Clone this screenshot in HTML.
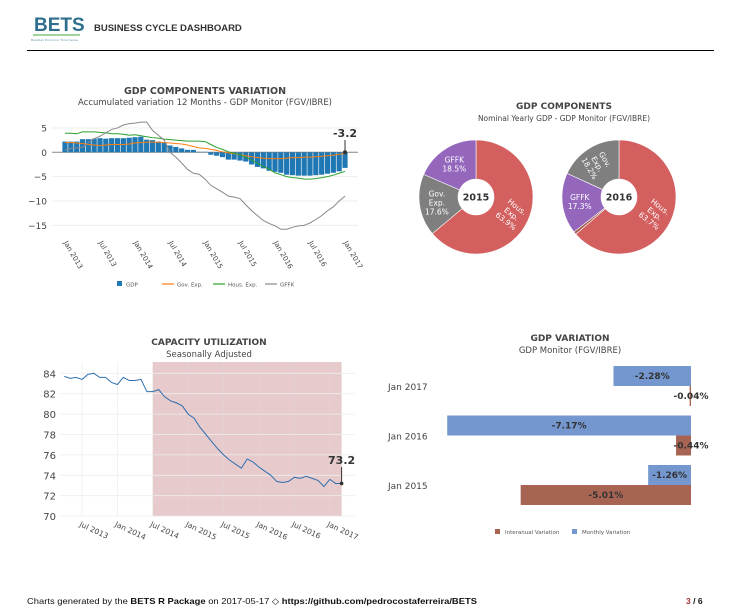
<!DOCTYPE html>
<html><head><meta charset="utf-8"><style>
body{margin:0;background:#fff;}
svg{display:block;font-family:"DejaVu Sans","Liberation Sans",sans-serif;}
</style></head><body>
<svg id="s" width="736" height="613" viewBox="0 0 736 613" xmlns="http://www.w3.org/2000/svg">
<g>
<text x="34" y="31" font-size="19" font-weight="bold" fill="#2e6f8e" font-family="Liberation Sans,sans-serif">BETS</text>
<rect x="33" y="34" width="47" height="2" fill="#9fd59a"/>
<text x="31" y="41" font-size="3" fill="#6a8ea0">Brazilian Economic Time Series</text>
<text x="94" y="31" font-size="9.5" font-weight="bold" fill="#333" font-family="Liberation Sans,sans-serif">BUSINESS CYCLE DASHBOARD</text>
<line x1="27" y1="50.5" x2="714" y2="50.5" stroke="#000" stroke-width="1"/>
</g>
<g id="c1">
<text x="205" y="94" text-anchor="middle" font-size="9.5" font-weight="bold" fill="#444">GDP COMPONENTS VARIATION</text>
<text x="205" y="105" text-anchor="middle" font-size="8.5" fill="#444">Accumulated variation 12 Months - GDP Monitor (FGV/IBRE)</text>
</g>
<g id="c2">
<text x="564" y="109" text-anchor="middle" font-size="9" font-weight="bold" fill="#444">GDP COMPONENTS</text>
<text x="564" y="121" text-anchor="middle" font-size="7.5" fill="#444">Nominal Yearly GDP - GDP Monitor (FGV/IBRE)</text>
</g>
<g id="c3">
<text x="209" y="345" text-anchor="middle" font-size="9" font-weight="bold" fill="#444">CAPACITY UTILIZATION</text>
<text x="209" y="357" text-anchor="middle" font-size="8.5" fill="#444">Seasonally Adjusted</text>
</g>
<g id="c4">
<text x="570" y="341" text-anchor="middle" font-size="9" font-weight="bold" fill="#444">GDP VARIATION</text>
<text x="570" y="353" text-anchor="middle" font-size="8.5" fill="#444">GDP Monitor (FGV/IBRE)</text>
</g>
<g font-family="Liberation Sans,sans-serif" font-size="8.5" fill="#111">
<text x="27" y="604" textLength="450" lengthAdjust="spacingAndGlyphs">Charts generated by the <tspan font-weight="bold">BETS R Package</tspan> on 2017-05-17 ◇ <tspan font-weight="bold">https://github.com/pedrocostaferreira/BETS</tspan></text>
<text x="686" y="604" font-weight="bold"><tspan fill="#a33">3</tspan> / 6</text>
</g>
</svg>
<script>
const NS='http://www.w3.org/2000/svg';
function mk(p,t,a,txt){const e=document.createElementNS(NS,t);for(const k in a)e.setAttribute(k,a[k]);if(txt!==undefined)e.textContent=txt;p.appendChild(e);return e;}

// ---- Chart 1 data ----
const c1Months=49; // Jan 2013 .. Jan 2017
const c1Ticks=['Jan 2013','Jul 2013','Jan 2014','Jul 2014','Jan 2015','Jul 2015','Jan 2016','Jul 2016','Jan 2017'];
const c1YTicks=[5,0,-5,-10,-15];
const gdp=[2.2,2.2,2.2,2.7,2.7,2.8,2.9,2.8,2.9,2.9,2.9,3.0,3.1,3.2,2.6,2.5,2.2,1.9,1.4,1.1,0.8,0.5,0.5,0.1,0.1,-0.5,-0.7,-1.0,-1.5,-1.5,-1.7,-1.9,-2.5,-3.0,-3.3,-3.8,-4.0,-4.2,-4.6,-4.7,-4.8,-4.8,-4.8,-4.7,-4.6,-4.4,-4.2,-3.9,-3.2];
const govExp=[2.0,2.0,1.9,1.8,1.6,1.5,1.4,1.5,1.6,1.6,1.6,1.7,1.9,2.0,2.1,2.1,2.1,2.0,1.9,1.8,1.7,1.5,1.2,0.9,0.8,0.6,0.4,0.1,-0.1,-0.3,-0.5,-0.7,-0.9,-1.1,-1.2,-1.3,-1.3,-1.3,-1.2,-1.1,-1.1,-1.0,-1.0,-0.9,-0.8,-0.7,-0.6,-0.4,-0.3];
const housExp=[3.9,3.9,3.8,4.2,4.2,4.2,4.1,4.0,3.8,3.8,3.7,3.5,3.6,3.4,3.2,3.0,2.9,2.7,2.6,2.5,2.4,2.3,2.3,2.3,2.2,1.6,1.0,0.6,0.1,-0.2,-0.5,-1.0,-1.6,-2.2,-2.9,-3.5,-4.2,-4.6,-5.0,-5.2,-5.3,-5.5,-5.5,-5.4,-5.2,-5.0,-4.7,-4.3,-3.9];
const gffk=[0.5,0.8,0.9,1.0,2.0,2.8,3.3,4.0,4.7,5.0,5.6,5.9,6.0,6.2,6.2,4.5,3.5,2.5,0.0,-1.0,-2.2,-3.5,-4.3,-4.5,-5.5,-6.8,-7.5,-8.2,-9.0,-9.2,-9.5,-10.8,-12.0,-13.0,-14.0,-14.6,-15.1,-15.8,-15.8,-15.4,-15.1,-15.0,-14.5,-13.8,-13.0,-12.0,-11.2,-10.0,-9.0];
// ---- Chart 2 data ----
const pieYears=['2015','2016'];
const pieLabels2015=['Hous. Exp.','Gov. Exp.','GFFK'];
const pieValues2015=[63.9,17.6,18.5];
const pieLabels2016=['Hous. Exp.','Other','GFFK','Gov. Exp.'];
const pieValues2016=[63.7,0.8,17.3,18.2];
// ---- Chart 3 data ---- (Apr 2013 .. Mar 2017)
const capTicks=['Jul 2013','Jan 2014','Jul 2014','Jan 2015','Jul 2015','Jan 2016','Jul 2016','Jan 2017'];
const capYTicks=[84,82,80,78,76,74,72,70];
const capValues=[83.7,83.5,83.6,83.4,83.9,84.0,83.6,83.6,83.1,82.9,83.6,83.3,83.3,83.4,82.2,82.2,82.4,81.7,81.3,81.1,80.8,80.0,79.6,78.7,78.0,77.3,76.6,76.0,75.5,75.1,74.7,75.6,75.3,74.8,74.4,74.0,73.4,73.3,73.4,73.8,73.7,73.9,73.7,73.5,72.9,73.6,73.2,73.2];
const capStartMonth=-3; // months relative to Jul 2013
const recessionStart=12, recessionEnd=44; // months relative to Jul 2013
// ---- Chart 4 data ----
const varCats=['Jan 2017','Jan 2016','Jan 2015'];
const monthlyVar=[-2.28,-7.17,-1.26];
const interanualVar=[-0.04,-0.44,-5.01];

// ===== Chart 1 =====
(function(){
const g=document.getElementById('c1');
const x0=65,x1=345,y0=152.3,ys=4.87;
const X=i=>x0+i*(x1-x0)/(c1Months-1), Y=v=>y0-v*ys;
c1YTicks.forEach(t=>{
 const l=mk(g,'line',{x1:52,x2:358,y1:Y(t),y2:Y(t),stroke:t===0?'#888':'#eee','stroke-width':1});
 
 
 const tx=mk(g,'text',{x:47,y:Y(t)+3.5,'text-anchor':'end','font-size':9,fill:'#444'},t<0?'\u2212'+(-t):String(t));
 
 
});
gdp.forEach((v,i)=>{
 const r=mk(g,'rect',{x:X(i)-2.6,width:5.2,y:Math.min(Y(v),y0),height:Math.abs(v)*ys,fill:'#1f77b4'});
 
 
});
function line(arr,col,name){
 const p=mk(g,'polyline',{points:arr.map((v,i)=>X(i)+','+Y(v)).join(' '),fill:'none',stroke:col,'stroke-width':1});
 
 
}
line(govExp,'#ff7f0e','gov-exp-line');
line(housExp,'#2ca02c','hous-exp-line');
line(gffk,'#888','gffk-line');
c1Ticks.forEach((t,k)=>{
 const x=X(k*6);
 const tx=mk(g,'text',{x:x,y:240,'font-size':7,fill:'#444',transform:`rotate(60 ${x-3} 240)`},t);
 
 
});
const last=gdp[gdp.length-1], lx=X(c1Months-1);
const a=mk(g,'line',{x1:lx,x2:lx,y1:140,y2:Y(0),stroke:'#333','stroke-width':1});


mk(g,'circle',{cx:lx,cy:Y(0),r:2,fill:'#333'});
const al=mk(g,'text',{x:lx,y:137,'text-anchor':'middle','font-size':11,'font-weight':'bold',fill:'#333'},last.toFixed(1));


// legend
const ly=284;
const items=[['GDP','bar','#1f77b4',117],['Gov. Exp.','line','#ff7f0e',162],['Hous. Exp.','line','#2ca02c',213],['GFFK','line','#888',265]];
items.forEach(it=>{
 const e=it[1]==='bar'?mk(g,'rect',{x:it[3],y:ly-3,width:5,height:5,fill:it[2]}):mk(g,'line',{x1:it[3],x2:it[3]+12,y1:ly,y2:ly,stroke:it[2],'stroke-width':1.2});
 
 
 const t=mk(g,'text',{x:it[3]+(it[1]==='bar'?9:15),y:ly+2.5,'font-size':5.5,fill:'#555'},it[0]);
 
 
});
})();

// ===== Chart 2 =====
(function(){
const g=document.getElementById('c2');
const colors={'Hous. Exp.':'#d35f5f','Gov. Exp.':'#7f7f7f','GFFK':'#9467bd','Other':'#a0594a'};
function pie(cx,cy,labels,vals,year){
 const R=57,r=18;let a=0;const tot=vals.reduce((s,v)=>s+v,0);
 vals.forEach((v,i)=>{
  const a0=a,a1=a+v/tot*2*Math.PI;a=a1;
  const p=(ang,rr)=>[cx+rr*Math.sin(ang),cy-rr*Math.cos(ang)];
  const [x0,y0]=p(a0,R),[x1,y1]=p(a1,R),[x2,y2]=p(a1,r),[x3,y3]=p(a0,r);
  const lg=a1-a0>Math.PI?1:0;
  const s=mk(g,'path',{d:`M${x0},${y0}A${R},${R} 0 ${lg} 1 ${x1},${y1}L${x2},${y2}A${r},${r} 0 ${lg} 0 ${x3},${y3}Z`,fill:colors[labels[i]],stroke:'#fff','stroke-width':0.6});
  
  
  if(v>5){
   const m=(a0+a1)/2,[tx,ty]=p(m,(R+r)/2+2);
   const words=labels[i].split(' ').concat([v.toFixed(1)+'%']);
   let rot=0;
   if(labels[i]==='Hous. Exp.')rot=38;
   if(year==='2016'&&labels[i]==='Gov. Exp.')rot=60;
   const t=mk(g,'text',{'font-size':7.5,fill:'#fff','text-anchor':'middle',transform:`rotate(${rot} ${tx} ${ty})`});
   
   
   const lines=(labels[i]==='GFFK')?['GFFK',v.toFixed(1)+'%']:words;
   lines.forEach((w,k)=>{mk(t,'tspan',{x:tx,y:ty+(k-(lines.length-1)/2)*9+3},w);});
  }
 });
 const c=mk(g,'text',{x:cx,y:cy+3.5,'text-anchor':'middle','font-size':9.5,'font-weight':'bold',fill:'#333'},year);
 
 
}
pie(476,197,pieLabels2015,pieValues2015,pieYears[0]);
pie(619,197,pieLabels2016,pieValues2016,pieYears[1]);
})();

// ===== Chart 3 =====
(function(){
const g=document.getElementById('c3');
const xJul13=82,ms=5.9,yTop=373.3,yScale=10.2;
const X=m=>xJul13+m*ms, Y=v=>yTop-(v-84)*yScale;
const band=mk(g,'rect',{x:X(recessionStart),y:362,width:X(recessionEnd)-X(recessionStart),height:Y(70)-362,fill:'#cf9597',opacity:0.5});


capYTicks.forEach(t=>{
 const l=mk(g,'line',{x1:60,x2:355,y1:Y(t),y2:Y(t),stroke:'#eee','stroke-width':0.8});
 
 
 const tx=mk(g,'text',{x:56,y:Y(t)+4,'text-anchor':'end','font-size':10,fill:'#444'},String(t));
 
 
});
capTicks.forEach((t,k)=>{
 const x=X(k*6);
 const l=mk(g,'line',{x1:x,x2:x,y1:362,y2:Y(70),stroke:'#ddd','stroke-width':0.6,opacity:0.6});
 
 
 const tx=mk(g,'text',{x:x-3,y:526,'font-size':7.5,fill:'#444',transform:`rotate(25 ${x-3} 526)`},t);
 
 
});
const pts=capValues.map((v,i)=>X(capStartMonth+i)+','+Y(v));
const p=mk(g,'polyline',{points:pts.join(' '),fill:'none',stroke:'#2f6fb0','stroke-width':1});


const lv=capValues[capValues.length-1],lx=X(capStartMonth+capValues.length-1);
const a=mk(g,'line',{x1:lx,x2:lx,y1:467,y2:Y(lv),stroke:'#333','stroke-width':1});


mk(g,'circle',{cx:lx,cy:Y(lv),r:1.8,fill:'#333'});
const t=mk(g,'text',{x:lx,y:464,'text-anchor':'middle','font-size':11,'font-weight':'bold',fill:'#333'},lv.toFixed(1));


})();

// ===== Chart 4 =====
(function(){
const g=document.getElementById('c4');
const x0=691,sc=34;
const X=v=>x0+v*sc;
varCats.forEach((c,i)=>{
 const top=366+i*49.5;
 const cl=mk(g,'text',{x:388,y:top+24,'font-size':9,fill:'#444'},c);
 
 
 const bm=mk(g,'rect',{x:X(monthlyVar[i]),y:top,width:x0-X(monthlyVar[i]),height:20,fill:'#7497cf'});
 
 
 const bi=mk(g,'rect',{x:X(interanualVar[i]),y:top+20,width:Math.max(1,x0-X(interanualVar[i])),height:20,fill:'#a86452'});
 
 
 const tm=mk(g,'text',{x:(X(monthlyVar[i])+x0)/2,y:top+13,'text-anchor':'middle','font-size':9,'font-weight':'bold',fill:'#333'},monthlyVar[i].toFixed(2)+'%');
 
 
 const w=x0-X(interanualVar[i]);
 const tix=w>40?(X(interanualVar[i])+x0)/2:x0;
 const ti=mk(g,'text',{x:tix,y:top+33,'text-anchor':'middle','font-size':9,'font-weight':'bold',fill:'#333'},interanualVar[i].toFixed(2)+'%');
 
 
});
const items=[['Interanual Variation','#a86452',495],['Monthly Variation','#7497cf',572]];
items.forEach(it=>{
 const s=mk(g,'rect',{x:it[2],y:529,width:5,height:5,fill:it[1]});
 
 
 const t=mk(g,'text',{x:it[2]+10,y:534,'font-size':5.5,fill:'#555'},it[0]);
 
 
});
})();
</script>
</body></html>
